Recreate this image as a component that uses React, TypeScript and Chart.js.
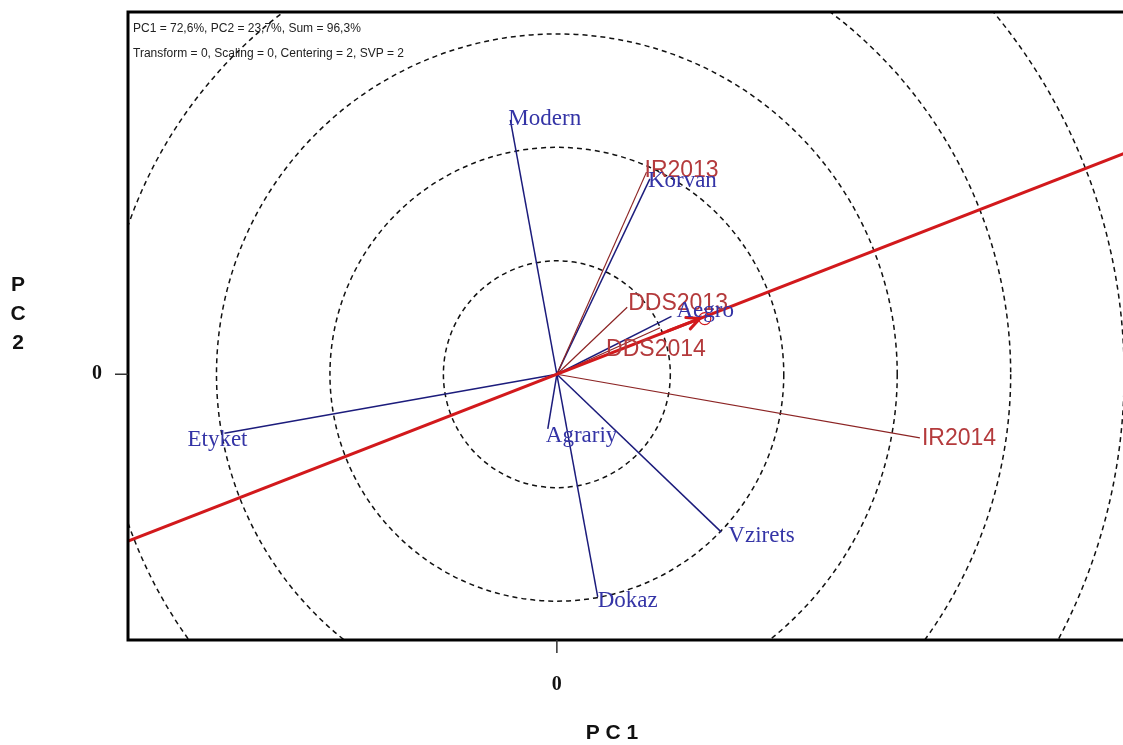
import React, { useEffect, useRef } from "react";
import { Chart, registerables } from "chart.js";

Chart.register(...registerables);

// Genotype scores (PC1, PC2)
const genotypeNames = ["Modern", "Korvan", "Aegro", "Etyket", "Agrariy", "Vzirets", "Dokaz"];
const genotypePC1 = [-0.41, 0.82, 1.01, -2.93, -0.08, 1.45, 0.36];
const genotypePC2 = [2.24, 1.72, 0.51, -0.52, -0.48, -1.39, -1.96];

// Environment scores (PC1, PC2)
const environmentNames = ["IR2013", "IR2014", "DDS2013", "DDS2014"];
const environmentPC1 = [0.79, 3.2, 0.62, 0.91];
const environmentPC2 = [1.78, -0.56, 0.59, 0.41];

// Average environment coordinate (defines the average-environment axis)
const averageEnvironment = [1.26, 0.49];

// Concentric reference circles around the biplot origin
const circleRadii = [1, 2, 3, 4, 5];

// Visible window of the biplot
const xRange = [-3.78, 4.99];
const yRange = [-2.34, 3.19];

const headerLines = [
  "PC1 = 72,6%, PC2 = 23,7%, Sum = 96,3%",
  "Transform = 0, Scaling = 0, Centering = 2, SVP = 2",
];

// Label offsets in pixels (text left edge / vertical middle relative to the vector tip)
const genotypeLabelOffsets: Record<string, [number, number]> = {
  Modern: [-2, -1],
  Korvan: [-2, 2],
  Aegro: [5, -5],
  Etyket: [-37, 7],
  Agrariy: [-2, 7],
  Vzirets: [7, 4],
  Dokaz: [0, 4],
};
const environmentLabelOffsets: Record<string, [number, number]> = {
  IR2013: [-2, -1],
  IR2014: [2, 1],
  DDS2013: [1, -4],
  DDS2014: [-54, 22],
};

const GENO_LINE = "#1c1c7c";
const GENO_TEXT = "#3434a6";
const ENV_LINE = "#8c2424";
const ENV_TEXT = "#b43a3c";
const AEA_RED = "#d2191c";

const SERIF = "'Liberation Serif', 'Times New Roman', serif";
const SANS = "'Liberation Sans', Arial, sans-serif";

const biplotPlugin = {
  id: "biplotDecor",
  beforeDatasetsDraw(chart: any) {
    const { ctx, chartArea, scales } = chart;
    const x = scales.x;
    const y = scales.y;
    const cx = x.getPixelForValue(0);
    const cy = y.getPixelForValue(0);
    ctx.save();
    ctx.beginPath();
    ctx.rect(chartArea.left, chartArea.top, chartArea.right - chartArea.left, chartArea.bottom - chartArea.top);
    ctx.clip();
    ctx.strokeStyle = "#111";
    ctx.lineWidth = 1.5;
    ctx.setLineDash([5, 4]);
    for (const r of circleRadii) {
      const rp = x.getPixelForValue(r) - cx;
      ctx.beginPath();
      ctx.arc(cx, cy, rp, 0, Math.PI * 2);
      ctx.stroke();
    }
    ctx.restore();
  },
  afterDatasetsDraw(chart: any) {
    const { ctx, chartArea, scales } = chart;
    const x = scales.x;
    const y = scales.y;
    ctx.save();

    // arrow and marker for the average environment
    const ax = x.getPixelForValue(averageEnvironment[0]);
    const ay = y.getPixelForValue(averageEnvironment[1]);
    const ang = Math.atan2(ay - y.getPixelForValue(0), ax - x.getPixelForValue(0));
    ctx.strokeStyle = AEA_RED;
    ctx.lineWidth = 3;
    ctx.lineCap = "round";
    const len = 14;
    ctx.beginPath();
    ctx.moveTo(ax - 34 * Math.cos(ang), ay - 34 * Math.sin(ang));
    ctx.lineTo(ax, ay);
    ctx.moveTo(ax + len * Math.cos(ang + Math.PI - 0.45), ay + len * Math.sin(ang + Math.PI - 0.45));
    ctx.lineTo(ax, ay);
    ctx.lineTo(ax + len * Math.cos(ang + Math.PI + 0.45), ay + len * Math.sin(ang + Math.PI + 0.45));
    ctx.stroke();
    ctx.lineWidth = 1.2;
    ctx.beginPath();
    ctx.arc(ax + 5, ay, 6, 0, Math.PI * 2);
    ctx.stroke();

    // labels
    ctx.textBaseline = "middle";
    ctx.textAlign = "left";
    ctx.font = `23px ${SANS}`;
    ctx.fillStyle = ENV_TEXT;
    environmentNames.forEach((n, i) => {
      const o = environmentLabelOffsets[n] || [0, 0];
      ctx.fillText(n, x.getPixelForValue(environmentPC1[i]) + o[0], y.getPixelForValue(environmentPC2[i]) + o[1]);
    });
    ctx.font = `23px ${SERIF}`;
    ctx.fillStyle = GENO_TEXT;
    genotypeNames.forEach((n, i) => {
      const o = genotypeLabelOffsets[n] || [0, 0];
      ctx.fillText(n, x.getPixelForValue(genotypePC1[i]) + o[0], y.getPixelForValue(genotypePC2[i]) + o[1]);
    });

    // header text
    ctx.fillStyle = "#222";
    ctx.font = `12px ${SANS}`;
    ctx.textBaseline = "alphabetic";
    headerLines.forEach((t, i) => ctx.fillText(t, chartArea.left + 5, chartArea.top + 20 + i * 25));

    // frame
    ctx.strokeStyle = "#000";
    ctx.lineWidth = 3;
    ctx.lineCap = "butt";
    ctx.beginPath();
    ctx.moveTo(chartArea.right + 2, chartArea.top);
    ctx.lineTo(chartArea.left, chartArea.top);
    ctx.lineTo(chartArea.left, chartArea.bottom);
    ctx.lineTo(chartArea.right + 2, chartArea.bottom);
    ctx.stroke();

    // zero ticks
    const x0 = x.getPixelForValue(0);
    const y0 = y.getPixelForValue(0);
    ctx.lineWidth = 1.5;
    ctx.strokeStyle = "#333";
    ctx.beginPath();
    ctx.moveTo(chartArea.left - 13, y0);
    ctx.lineTo(chartArea.left, y0);
    ctx.moveTo(x0, chartArea.bottom);
    ctx.lineTo(x0, chartArea.bottom + 13);
    ctx.stroke();

    ctx.fillStyle = "#111";
    ctx.font = `bold 20px ${SERIF}`;
    ctx.textAlign = "center";
    ctx.textBaseline = "middle";
    ctx.fillText("0", chartArea.left - 31, y0);
    ctx.fillText("0", x0, chartArea.bottom + 45);

    // axis titles
    ctx.font = `bold 21px ${SANS}`;
    ["P", "C", "2"].forEach((c, i) => ctx.fillText(c, 18, 285 + i * 29));
    ctx.fillText("P C 1", 612, 733);

    ctx.restore();
  },
};

export default function App() {
  const canvasRef = useRef<HTMLCanvasElement | null>(null);

  useEffect(() => {
    if (!canvasRef.current) return;

    const envSets = environmentNames.map((n, i) => ({
      label: n,
      data: [
        { x: 0, y: 0 },
        { x: environmentPC1[i], y: environmentPC2[i] },
      ],
      showLine: true,
      borderColor: ENV_LINE,
      borderWidth: 1.2,
      pointRadius: 0,
    }));
    const genoSets = genotypeNames.map((n, i) => ({
      label: n,
      data: [
        { x: 0, y: 0 },
        { x: genotypePC1[i], y: genotypePC2[i] },
      ],
      showLine: true,
      borderColor: GENO_LINE,
      borderWidth: 1.5,
      pointRadius: 0,
    }));
    const aeaSet = {
      label: "AEA",
      data: [
        { x: averageEnvironment[0] * -5, y: averageEnvironment[1] * -5 },
        { x: averageEnvironment[0] * 6, y: averageEnvironment[1] * 6 },
      ],
      showLine: true,
      borderColor: AEA_RED,
      borderWidth: 3,
      pointRadius: 0,
    };

    const chart = new Chart(canvasRef.current, {
      type: "scatter",
      data: { datasets: [aeaSet, ...envSets, ...genoSets] as any },
      options: {
        animation: false,
        responsive: false,
        devicePixelRatio: 1,
        layout: { padding: { left: 128, top: 12, right: 0, bottom: 105 } },
        plugins: { legend: { display: false }, tooltip: { enabled: false } },
        scales: {
          x: { type: "linear", min: xRange[0], max: xRange[1], display: false },
          y: { type: "linear", min: yRange[0], max: yRange[1], display: false },
        },
      },
      plugins: [biplotPlugin],
    });
    return () => chart.destroy();
  }, []);

  return (
    <div style={{ width: 1123, height: 745, background: "#fff" }}>
      <style>{"html,body{margin:0;padding:0;overflow:hidden;background:#fff}"}</style>
      <canvas ref={canvasRef} width={1123} height={745} style={{ display: "block" }} />
    </div>
  );
}
